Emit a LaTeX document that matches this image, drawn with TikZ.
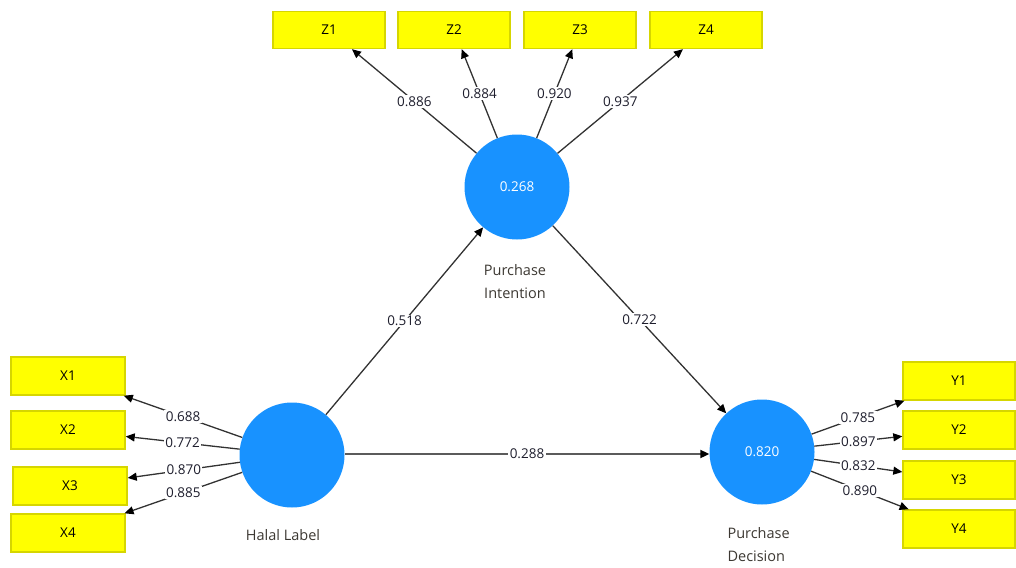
\documentclass[tikz,border=0pt]{standalone}
\usepackage{fontspec}
\setmainfont{Open Sans}
\usetikzlibrary{arrows.meta}
\definecolor{lvblue}{RGB}{24,146,255}
\definecolor{indyellow}{RGB}{255,255,0}
\definecolor{indborder}{RGB}{214,214,0}
\definecolor{linkgray}{RGB}{50,50,50}
\definecolor{coefink}{RGB}{30,30,45}
\definecolor{nameink}{RGB}{60,56,50}
\begin{document}
\begin{tikzpicture}[x=1pt,y=-1pt,
  indicator/.style={draw=indborder,line width=1.4pt,fill=indyellow,
    minimum width=112pt,minimum height=37pt,inner sep=0pt,
    font=\fontsize{13.5}{15}\selectfont},
  latent/.style={circle,fill=lvblue,minimum size=105pt,inner sep=0pt,
    text=white,font=\fontsize{13.5}{15}\selectfont},
  link/.style={draw=linkgray,line width=1.3pt,
    -{Triangle[length=9pt,width=8pt,color=black]}},
  coef/.style={fill=white,inner sep=1.5pt,text=coefink,
    font=\fontsize{13.5}{15}\selectfont},
  lvname/.style={text=nameink,font=\fontsize{14.5}{23}\selectfont}
]
\useasboundingbox (0,0) rectangle (1016,567);

% latent variables
\node[latent] (PI) at (517,187) {0.268};
\node[latent] (HL) at (292,455) {};
\node[latent] (PD) at (762,452) {0.820};

\node[lvname,align=center] (PIname) at (515,282) {Purchase\\Intention};
\node[lvname] (HLname) at (283,535) {Halal Label};
\node[lvname,align=left,anchor=west] (PDname) at (724,545) {Purchase\\Decision};

% indicators
\node[indicator] (Z1) at (329,30) {Z1};
\node[indicator] (Z2) at (454,30) {Z2};
\node[indicator] (Z3) at (580,30) {Z3};
\node[indicator] (Z4) at (706,30) {Z4};

\node[indicator,minimum width=114pt,minimum height=38pt] (X1) at (68,376) {X1};
\node[indicator,minimum width=114pt,minimum height=38pt] (X2) at (68,430) {X2};
\node[indicator,minimum width=114pt,minimum height=38pt] (X3) at (70,486) {X3};
\node[indicator,minimum width=114pt,minimum height=38pt] (X4) at (68,533) {X4};

\node[indicator,minimum height=38pt] (Y1) at (959,381) {Y1};
\node[indicator,minimum height=38pt] (Y2) at (959,430) {Y2};
\node[indicator,minimum height=38pt] (Y3) at (959,480) {Y3};
\node[indicator,minimum height=38pt] (Y4) at (959,529) {Y4};

% outer loadings
\draw[link] (PI) -- node[coef]{0.886} (Z1);
\draw[link] (PI) -- node[coef]{0.884} (Z2);
\draw[link] (PI) -- node[coef]{0.920} (Z3);
\draw[link] (PI) -- node[coef]{0.937} (Z4);

\draw[link] (HL) -- node[coef]{0.688} (X1);
\draw[link] (HL) -- node[coef]{0.772} (X2);
\draw[link] (HL) -- node[coef]{0.870} (X3);
\draw[link] (HL) -- node[coef]{0.885} (X4);

\draw[link] (PD) -- node[coef]{0.785} (Y1);
\draw[link] (PD) -- node[coef]{0.897} (Y2);
\draw[link] (PD) -- node[coef]{0.832} (Y3);
\draw[link] (PD) -- node[coef]{0.890} (Y4);

% structural paths
\draw[link] (HL) -- node[coef]{0.518} (PI);
\draw[link] (PI) -- node[coef]{0.722} (PD);
\draw[link,line width=2pt,draw=linkgray!80] (HL.east |- 0,454) -- node[coef]{0.288} (PD.west |- 0,454);
\end{tikzpicture}
\end{document}
